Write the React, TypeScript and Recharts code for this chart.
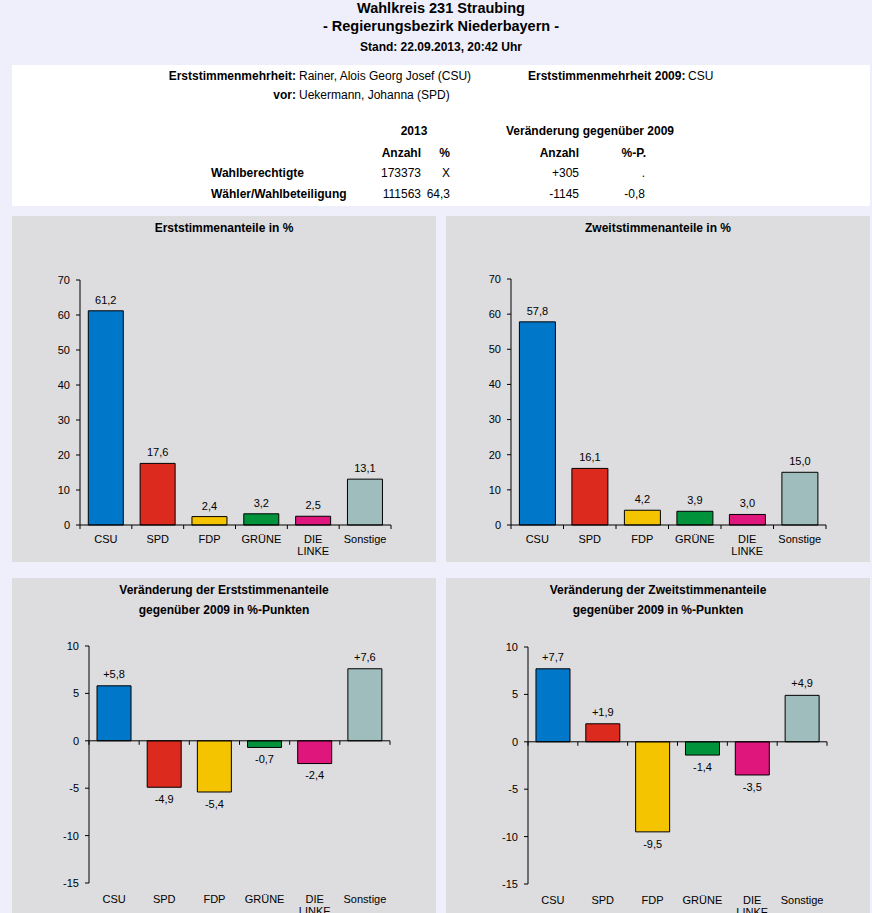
import React from "react";
import { BarChart, Bar, XAxis, YAxis, Cell, LabelList, ReferenceLine } from "recharts";

const FONT = "'Liberation Sans', Arial, sans-serif";

const parties = ["CSU", "SPD", "FDP", "GRÜNE", "DIE LINKE", "Sonstige"];
const partyColors = ["#0077c8", "#dc2a1f", "#f5c400", "#00933b", "#df177d", "#9fbdbc"];
const erststimmen = [61.2, 17.6, 2.4, 3.2, 2.5, 13.1];
const zweitstimmen = [57.8, 16.1, 4.2, 3.9, 3.0, 15.0];
const erstDiff = [5.8, -4.9, -5.4, -0.7, -2.4, 7.6];
const zweitDiff = [7.7, 1.9, -9.5, -1.4, -3.5, 4.9];
const shareTicks = [0, 10, 20, 30, 40, 50, 60, 70];
const diffTicks = [-15, -10, -5, 0, 5, 10];

function fmt(v: number, signed: boolean) {
  return (signed && v > 0 ? "+" : "") + v.toFixed(1).replace(".", ",");
}

function PartyTick(props: any) {
  const { x, y, payload } = props;
  const lines = String(payload.value).split(" ");
  return (
    <text x={x} y={y} textAnchor="middle" fontSize={11} fill="#000" fontFamily={FONT}>
      {lines.map((l, i) => (
        <tspan key={i} x={x} dy={i === 0 ? "0.71em" : 12}>
          {l}
        </tspan>
      ))}
    </text>
  );
}

// zero line with ticks on the category boundaries
function ZeroAxis(props: any) {
  const { x1, y1, x2 } = props;
  const n = parties.length;
  const step = (x2 - x1) / n;
  return (
    <g>
      <line x1={x1} y1={y1} x2={x2} y2={y1} stroke="#000" strokeWidth={1} />
      {Array.from({ length: n + 1 }, (_, i) => (
        <line key={i} x1={x1 + i * step} x2={x1 + i * step} y1={y1} y2={y1 + 4} stroke="#000" strokeWidth={1} />
      ))}
    </g>
  );
}

interface PanelProps {
  left: number;
  top: number;
  titles: string[];
  values: number[];
  ticks: number[];
  signed: boolean;
  margin: { top: number; right: number; bottom: number; left: number };
  tickMargin: number;
}

function Panel(props: PanelProps) {
  const { left, top, titles, values, ticks, signed, margin, tickMargin } = props;
  const data = parties.map((p, i) => ({ party: p, value: values[i] }));
  return (
    <div style={{ position: "absolute", left, top, width: 424, height: 346, background: "#dddcde" }}>
      {titles.map((t, i) => (
        <div
          key={i}
          style={{
            position: "absolute",
            left: 0,
            width: 424,
            top: 5 + i * 20,
            lineHeight: "14px",
            fontSize: 12,
            fontWeight: "bold",
            textAlign: "center",
            color: "#000",
          }}
        >
          {t}
        </div>
      ))}
      <BarChart width={424} height={346} data={data} margin={margin} barCategoryGap="16%" style={{ position: "absolute", left: 0, top: 0 }}>
        <XAxis
          dataKey="party"
          axisLine={false}
          tickLine={false}
          interval={0}
          tickMargin={tickMargin}
          tickSize={6}
          height={30}
          tick={<PartyTick />}
        />
        <YAxis
          type="number"
          domain={[ticks[0], ticks[ticks.length - 1]]}
          ticks={ticks}
          interval={0}
          width={40}
          tickSize={4}
          tickMargin={6}
          axisLine={{ stroke: "#000" }}
          tickLine={{ stroke: "#000" }}
          tick={{ fontSize: 11, fill: "#000", fontFamily: FONT }}
        />
        <Bar dataKey="value" stroke="#000" strokeWidth={1} isAnimationActive={false}>
          {data.map((d, i) => (
            <Cell key={d.party} fill={partyColors[i]} />
          ))}
          <LabelList
            dataKey="value"
            position="top"
            offset={signed ? 8 : 7}
            fontSize={11}
            fill="#000"
            fontFamily={FONT}
            formatter={(v: any) => fmt(Number(v), signed)}
          />
        </Bar>
        <ReferenceLine y={0} shape={<ZeroAxis />} />
      </BarChart>
    </div>
  );
}

function T(props: { x: number; y: number; text: string; bold?: boolean; align?: "left" | "right" | "center"; size?: number }) {
  const { x, y, text, bold, align = "left", size = 12 } = props;
  const lh = size > 13 ? 16 : 14;
  const base: React.CSSProperties = {
    position: "absolute",
    top: y - lh / 2,
    lineHeight: lh + "px",
    fontSize: size,
    fontWeight: bold ? "bold" : "normal",
    whiteSpace: "nowrap",
    color: "#000",
  };
  if (align === "left") return <div style={{ ...base, left: x }}>{text}</div>;
  if (align === "right") return <div style={{ ...base, left: x - 400, width: 400, textAlign: "right" }}>{text}</div>;
  return <div style={{ ...base, left: x - 400, width: 800, textAlign: "center" }}>{text}</div>;
}

export default function App() {
  return (
    <div style={{ position: "relative", width: 872, height: 913, overflow: "hidden", background: "#efeffb", fontFamily: FONT }}>
      <style>{"body{margin:0;}"}</style>
      <T x={441} y={8} text="Wahlkreis 231 Straubing" bold align="center" size={14.5} />
      <T x={441} y={26} text="- Regierungsbezirk Niederbayern -" bold align="center" size={14.5} />
      <T x={441} y={47} text="Stand: 22.09.2013, 20:42 Uhr" bold align="center" />

      <div style={{ position: "absolute", left: 12, top: 65, width: 858, height: 141, background: "#ffffff" }} />
      <T x={296} y={76} text="Erststimmenmehrheit:" bold align="right" />
      <T x={299} y={76} text="Rainer, Alois Georg Josef (CSU)" />
      <T x={528} y={76} text="Erststimmenmehrheit 2009:" bold />
      <T x={688} y={76} text="CSU" />
      <T x={296} y={95} text="vor:" bold align="right" />
      <T x={299} y={95} text="Uekermann, Johanna (SPD)" />

      <T x={414} y={131} text="2013" bold align="center" />
      <T x={590} y={131} text="Veränderung gegenüber 2009" bold align="center" />
      <T x={421} y={153} text="Anzahl" bold align="right" />
      <T x={450} y={153} text="%" bold align="right" />
      <T x={579} y={153} text="Anzahl" bold align="right" />
      <T x={646} y={153} text="%-P." bold align="right" />

      <T x={211} y={173} text="Wahlberechtigte" bold />
      <T x={421} y={173} text="173373" align="right" />
      <T x={450} y={173} text="X" align="right" />
      <T x={579} y={173} text="+305" align="right" />
      <T x={645} y={173} text="." align="right" />

      <T x={211} y={194} text="Wähler/Wahlbeteiligung" bold />
      <T x={421} y={194} text="111563" align="right" />
      <T x={450} y={194} text="64,3" align="right" />
      <T x={579} y={194} text="-1145" align="right" />
      <T x={645} y={194} text="-0,8" align="right" />

      <Panel
        left={12}
        top={216}
        titles={["Erststimmenanteile in %"]}
        values={erststimmen}
        ticks={shareTicks}
        signed={false}
        margin={{ top: 64, right: 45, bottom: 7, left: 28 }}
        tickMargin={4}
      />
      <Panel
        left={446}
        top={216}
        titles={["Zweitstimmenanteile in %"]}
        values={zweitstimmen}
        ticks={shareTicks}
        signed={false}
        margin={{ top: 63, right: 44, bottom: 7, left: 25 }}
        tickMargin={4}
      />
      <Panel
        left={12}
        top={578}
        titles={["Veränderung der Erststimmenanteile", "gegenüber 2009 in %-Punkten"]}
        values={erstDiff}
        ticks={diffTicks}
        signed={true}
        margin={{ top: 68, right: 46, bottom: 11, left: 37 }}
        tickMargin={6}
      />
      <Panel
        left={446}
        top={578}
        titles={["Veränderung der Zweitstimmenanteile", "gegenüber 2009 in %-Punkten"]}
        values={zweitDiff}
        ticks={diffTicks}
        signed={true}
        margin={{ top: 69, right: 43, bottom: 10, left: 42 }}
        tickMargin={6}
      />
    </div>
  );
}
